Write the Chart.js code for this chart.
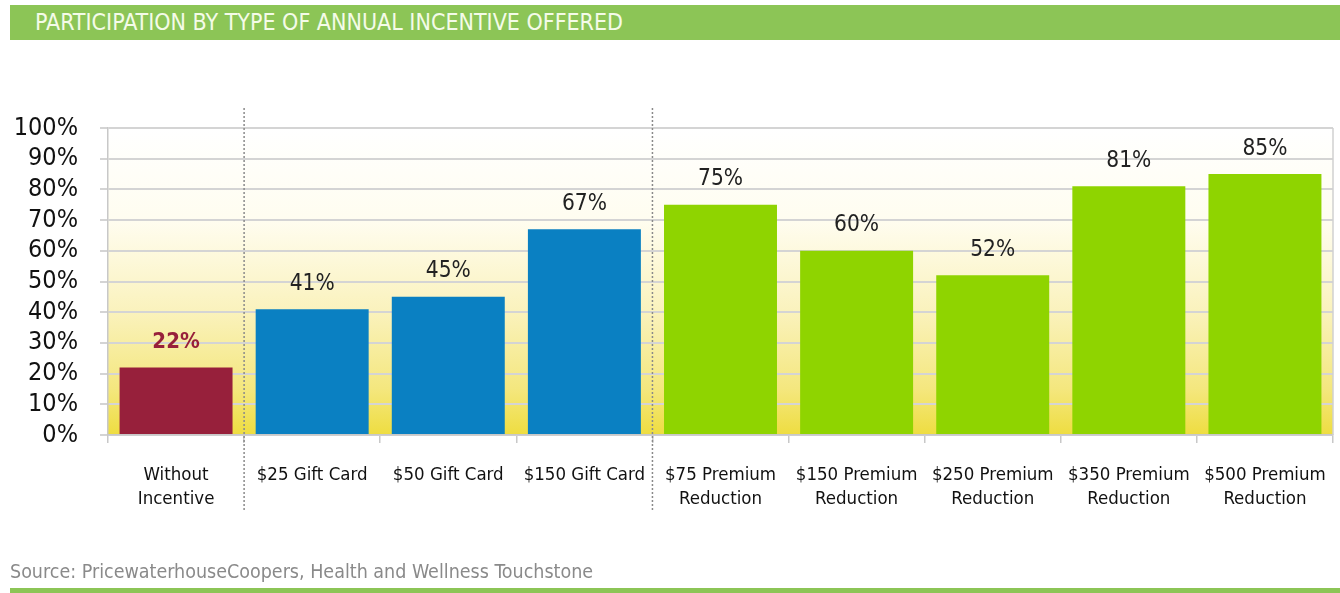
<!DOCTYPE html>
<html><head><meta charset="utf-8">
<script src="https://cdn.jsdelivr.net/npm/chart.js@4.4.1/dist/chart.umd.min.js"></script>
<style>
html,body{margin:0;padding:0;background:#fff;width:1340px;height:593px;overflow:hidden;font-family:"DejaVu Sans Condensed","DejaVu Sans",sans-serif;}
#wrap{position:absolute;left:0;top:0;width:1340px;height:593px;}
#title{position:absolute;left:10px;top:5px;width:1330px;height:35px;background:#8cc556;color:#f4fbe8;font-size:23px;line-height:35px;padding-left:25px;box-sizing:border-box;}
#source{position:absolute;left:10px;top:560px;color:#8a8a8a;font-size:19.5px;}
#bottombar{position:absolute;left:10px;top:588px;width:1330px;height:5px;background:#8cc556;}
canvas{position:absolute;left:0;top:0;}
</style></head>
<body><div id="wrap">
<canvas id="c" width="1340" height="593"></canvas>
<div id="title">PARTICIPATION BY TYPE OF ANNUAL INCENTIVE OFFERED</div>
<div id="source">Source: PricewaterhouseCoopers, Health and Wellness Touchstone</div>
<div id="bottombar"></div>
</div>
<script>
const categories = [["Without","Incentive"],"$25 Gift Card","$50 Gift Card","$150 Gift Card",["$75 Premium","Reduction"],["$150 Premium","Reduction"],["$250 Premium","Reduction"],["$350 Premium","Reduction"],["$500 Premium","Reduction"]];
const participation = [22,41,45,67,75,60,52,81,85];
const barColors = ["#97203b","#0a80c2","#0a80c2","#0a80c2","#8fd400","#8fd400","#8fd400","#8fd400","#8fd400"];
const yTicks = [0,10,20,30,40,50,60,70,80,90,100];
const separatorsAfter = [0,3];
const FONT = '"DejaVu Sans Condensed","DejaVu Sans",sans-serif';

const bgPlugin = {
  id:'bg',
  beforeDraw(chart){
    const {ctx, chartArea:a} = chart;
    const g = ctx.createLinearGradient(0,a.top,0,a.bottom);
    g.addColorStop(0,'#ffffff');
    g.addColorStop(0.3,'#fffdf0');
    g.addColorStop(0.6,'#faf2bc');
    g.addColorStop(0.85,'#f4e77e');
    g.addColorStop(1,'#eedd40');
    ctx.save();ctx.fillStyle=g;ctx.fillRect(a.left,a.top,a.right-a.left,a.bottom-a.top);ctx.restore();
  },
  afterDraw(chart){
    const {ctx, chartArea:a} = chart;
    const x = chart.scales.x;
    ctx.save();
    ctx.strokeStyle='#8a8a8a';ctx.lineWidth=1.5;ctx.setLineDash([2,2]);
    separatorsAfter.forEach(i=>{
      const px = (x.getPixelForValue(i)+x.getPixelForValue(i+1))/2;
      ctx.beginPath();ctx.moveTo(px,a.top-20);ctx.lineTo(px,a.bottom+77);ctx.stroke();
    });
    ctx.setLineDash([]);
    ctx.strokeStyle='#d0d0d0';ctx.lineWidth=1.5;
    ctx.beginPath();ctx.moveTo(a.right,a.top);ctx.lineTo(a.right,a.bottom);ctx.stroke();
    const meta = chart.getDatasetMeta(0);
    ctx.textAlign='center';ctx.textBaseline='bottom';
    meta.data.forEach((bar,i)=>{
      if(i===0){ctx.font='bold 22px '+FONT;ctx.fillStyle='#97203b';}
      else{ctx.font='22.5px '+FONT;ctx.fillStyle='#222';}
      ctx.fillText(participation[i]+'%',bar.x,bar.y-14);
    });
    ctx.restore();
  }
};

new Chart(document.getElementById('c'),{
  type:'bar',
  data:{labels:categories,datasets:[{data:participation,backgroundColor:barColors,borderWidth:0,categoryPercentage:1,barPercentage:0.83}]},
  options:{
    responsive:false,animation:false,
    layout:{padding:{top:128,right:7,bottom:68,left:0}},
    plugins:{legend:{display:false},tooltip:{enabled:false}},
    scales:{
      x:{
        grid:{display:true,drawOnChartArea:false,offset:true,color:'#c8c8c8',lineWidth:1.5,tickLength:8},
        border:{display:true,color:'#c8c8c8',width:1.5},
        ticks:{color:'#111',font:{family:FONT,size:18.5,lineHeight:1.3},padding:20,maxRotation:0,autoSkip:false},
        afterFit(s){s.height=90;s.paddingLeft=0;s.paddingRight=0;}
      },
      y:{
        min:0,max:100,
        afterBuildTicks(s){s.ticks=yTicks.map(v=>({value:v}));},
        grid:{color:'#d4d4d4',lineWidth:2,tickLength:8},
        border:{display:true,color:'#c8c8c8',width:1.5},
        ticks:{color:'#111',font:{family:FONT,size:25},padding:22,autoSkip:false,callback:v=>v+'%'},
        afterFit(s){s.width=108;s.paddingTop=0;s.paddingBottom=0;}
      }
    }
  },
  plugins:[bgPlugin]
});
</script>
</body></html>
